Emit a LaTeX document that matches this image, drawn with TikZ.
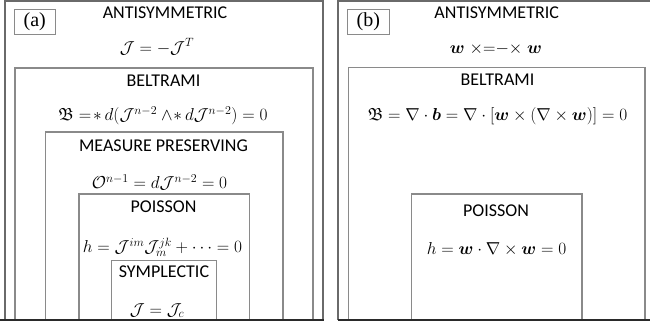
\documentclass[tikz,border=0pt]{standalone}
\usepackage{amsmath,amssymb,bm}
\usepackage{fontspec}
\setmainfont{Liberation Serif}
\newfontfamily\labfont{Carlito}
\definecolor{boxgray}{HTML}{8A8A8A}
\definecolor{outgray}{HTML}{6A6A6A}
\definecolor{baseline}{HTML}{2A2A2A}
\tikzset{
  box/.style={draw=boxgray, line width=1.1pt},
  outbox/.style={draw=outgray, line width=1.1pt},
  hd/.style={font=\labfont\fontsize{18}{20}\selectfont, anchor=base, inner sep=0pt},
  eq/.style={font=\fontsize{17.5}{20}\selectfont, anchor=base, inner sep=0pt},
  tag/.style={draw=boxgray, line width=1pt, font=\fontsize{20}{22}\selectfont, inner sep=0pt, minimum width=41.5pt, minimum height=24.5pt}
}
\begin{document}
\begin{tikzpicture}[x=1pt,y=-1pt]
\useasboundingbox (0,0) rectangle (650,324);
% ---------- panel (a) ----------
\draw[outbox] (5,320) |- (323,1) -- (323,320);
\draw[box] (15,320) |- (313,68) -- (313,320);
\draw[box] (45.5,320) |- (283,132) -- (283,320);
\draw[box] (79,320) |- (249.5,194) -- (249.5,320);
\draw[box] (111.5,320) |- (216.7,260.5) -- (216.7,320);
\node[tag] (taga) at (34.8,21.8) {(a)};
\node[hd] (anta) at (165,18.3) {ANTISYMMETRIC};
\node[eq] (eqanta) at (157,53) {$\mathcal{J}=-\mathcal{J}^{T}$};
\node[hd] (bela) at (163.5,86.5) {BELTRAMI};
\node[eq] (eqbela) at (163,120.5) {$\mathfrak{B}=\!{\ast}\,d(\mathcal{J}^{n-2}\wedge\!{\ast}\,d\mathcal{J}^{n-2})=0$};
\node[hd] (mpa) at (163.5,151.7) {MEASURE PRESERVING};
\node[eq] (eqmpa) at (159.5,188.7) {$\mathcal{O}^{n-1}=d\mathcal{J}^{n-2}=0$};
\node[hd] (poia) at (163.5,212.7) {POISSON};
\node[eq] (eqpoia) at (162.5,252.5) {$h=\mathcal{J}^{im}\mathcal{J}^{jk}_{m}+\cdots=0$};
\node[hd] (syma) at (164,277.7) {SYMPLECTIC};
\node[eq] (eqsyma) at (157,315) {$\mathcal{J}=\mathcal{J}_{c}$};
% ---------- panel (b) ----------
\draw[outbox] (338,320) |- (660,1);
\draw[box] (348.5,320) |- (645,67.5) -- (645,320);
\draw[box] (411.7,320) |- (582,194) -- (582,320);
\node[tag] (tagb) at (368.3,22) {(b)};
\node[hd] (antb) at (496.7,18.3) {ANTISYMMETRIC};
\node[eq] (eqantb) at (496,53) {$\bm{w}\;{\times}{=}{-}{\times}\;\bm{w}$};
\node[hd] (belb) at (497.5,85.5) {BELTRAMI};
\node[eq] (eqbelb) at (497.5,120.5) {$\mathfrak{B}=\nabla\cdot\bm{b}=\nabla\cdot[\bm{w}\times(\nabla\times\bm{w})]=0$};
\node[hd] (poib) at (496,216) {POISSON};
\node[eq] (eqpoib) at (496.5,254) {$h=\bm{w}\cdot\nabla\times\bm{w}=0$};
% ---------- bottom edge ----------
\fill[white] (0,320) rectangle (650,324);
\draw[draw=baseline, line width=1.3pt] (0,320) -- (323.5,320);
\draw[draw=baseline, line width=1.3pt] (337.5,320) -- (650,320);
\end{tikzpicture}
\end{document}
